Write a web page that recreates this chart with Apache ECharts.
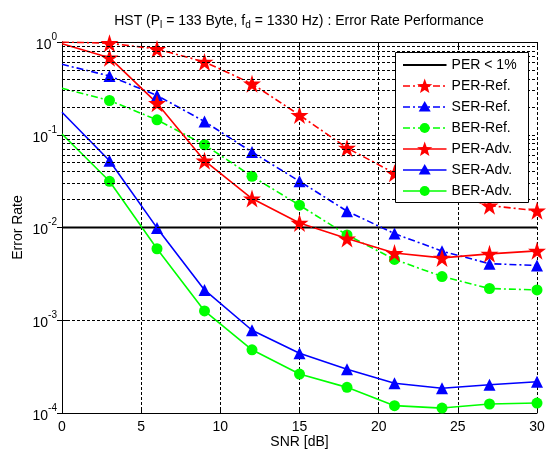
<!DOCTYPE html>
<html>
<head>
<meta charset="utf-8">
<script src="https://cdn.jsdelivr.net/npm/echarts@6/dist/echarts.min.js"></script>
<style>
html, body { margin: 0; padding: 0; background: #fff; }
#chart { width: 546px; height: 452px; }
</style>
</head>
<body>
<div id="chart"></div>
<script>
// SNR points (dB)
var snr = [0, 3, 6, 9, 12, 15, 18, 21, 24, 27, 30];
// reference receiver
var perRef = [1.0, 0.97, 0.84, 0.61, 0.355, 0.163, 0.072, 0.0385, 0.025, 0.0172, 0.0152];
var serRef = [0.575, 0.43, 0.265, 0.139, 0.065, 0.0315, 0.015, 0.0086, 0.00556, 0.00407, 0.0039];
var berRef = [0.318, 0.234, 0.145, 0.078, 0.0356, 0.0174, 0.0083, 0.00453, 0.00296, 0.0022, 0.00212];
// advanced receiver
var perAdv = [0.96, 0.678, 0.219, 0.0525, 0.0205, 0.0112, 0.0076, 0.0053, 0.0047, 0.0052, 0.0056];
var serAdv = [0.175, 0.0525, 0.0099, 0.00212, 0.00078, 0.00044, 0.000297, 0.000209, 0.000185, 0.000202, 0.000217];
var berAdv = [0.102, 0.0315, 0.0059, 0.00126, 0.00048, 0.000263, 0.000189, 0.00012, 0.000113, 0.000125, 0.000128];
// 1% PER limit
var perLimit = 0.01;
var xRange = [0, 30];
var yDecades = [-4, -3, -2, -1];
var minorSteps = [2, 3, 4, 5, 6, 7, 8, 9];

var FONT = '"Liberation Sans", Arial, sans-serif';
var star = 'path://M50,0 L61.2,34.5 L97.6,34.5 L68.2,55.9 L79.4,90.5 L50,69.1 L20.6,90.5 L31.8,55.9 L2.4,34.5 L38.8,34.5 Z';
var dashDot = [7, 3, 2, 3];

var RED = '#ff0000', BLUE = '#0000ff', GREEN = '#00ff00';

// legend entries (name, colour, marker, dashed)
var legendItems = [
  ['PER < 1%', '#000', null, false],
  ['PER-Ref.', RED, 'star', true],
  ['SER-Ref.', BLUE, 'triangle', true],
  ['BER-Ref.', GREEN, 'circle', true],
  ['PER-Adv.', RED, 'star', false],
  ['SER-Adv.', BLUE, 'triangle', false],
  ['BER-Adv.', GREEN, 'circle', false]
];

function starPoints(cx, cy, R, r) {
  var p = [];
  for (var i = 0; i < 10; i++) {
    var a = -Math.PI / 2 + i * Math.PI / 5;
    var rr = i % 2 === 0 ? R : r;
    p.push([cx + rr * Math.cos(a), cy + rr * Math.sin(a)]);
  }
  return p;
}

// legend drawn as a graphic group (box at 395,52), on top of the plot
function buildLegend() {
  var Z = 50;
  var kids = [{
    type: 'rect',
    z: Z,
    shape: { x: 0.5, y: 0.5, width: 133, height: 150 },
    style: { fill: '#fff', stroke: '#000', lineWidth: 1 }
  }];
  legendItems.forEach(function (it, i) {
    var cy = 13 + 21 * i, cx = 29.7;
    kids.push({
      type: 'line',
      z: Z + 1,
      shape: { x1: 8, y1: cy, x2: 51.5, y2: cy },
      style: { stroke: it[1], lineWidth: i === 0 ? 2 : 1.6, lineDash: it[3] ? dashDot : null }
    });
    if (it[2] === 'star') {
      kids.push({ type: 'polygon', z: Z + 2, shape: { points: starPoints(cx, cy + 0.6, 8, 3.3) }, style: { fill: it[1] } });
    } else if (it[2] === 'triangle') {
      kids.push({ type: 'polygon', z: Z + 2, shape: { points: [[cx, cy - 6], [cx + 6, cy + 4.5], [cx - 6, cy + 4.5]] }, style: { fill: it[1] } });
    } else if (it[2] === 'circle') {
      kids.push({ type: 'circle', z: Z + 2, shape: { cx: cx, cy: cy, r: 5 }, style: { fill: it[1] } });
    }
    kids.push({
      type: 'text',
      z: Z + 3,
      x: 56.6,
      y: cy,
      style: { text: it[0], fontFamily: FONT, fontSize: 14, fill: '#000', verticalAlign: 'middle', backgroundColor: '#fff' }
    });
  });
  return { type: 'group', x: 395, y: 52, z: Z, children: kids };
}

// no marker on the first point (like the original figure)
function pts(arr) {
  return arr.map(function (v, i) {
    var item = { value: [snr[i], v] };
    if (i === 0) item.symbol = 'none';
    return item;
  });
}

// dashed lines at 2..9 x 10^k
var minorLines = [];
yDecades.forEach(function (e) {
  minorSteps.forEach(function (k) {
    minorLines.push({ yAxis: k * Math.pow(10, e) });
  });
});

function mk(name, data, color, symbol, size, dashed) {
  return {
    name: name,
    type: 'line',
    data: pts(data),
    symbol: symbol,
    symbolSize: size,
    showAllSymbol: true,
    itemStyle: { color: color },
    lineStyle: { color: color, width: 1.6, type: dashed ? dashDot : 'solid' },
    z: 3
  };
}

var chart = echarts.init(document.getElementById('chart'));
var option = {
  animation: false,
  backgroundColor: '#fff',
  textStyle: { fontFamily: FONT, color: '#000' },
  graphic: [{
    type: 'text',
    x: 299,
    y: 21,
    style: {
      text: 'HST (P{sub|l} = 133 Byte, f{sub|d} = 1330 Hz) : Error Rate Performance',
      fontFamily: FONT,
      fontSize: 14,
      fill: '#000',
      align: 'center',
      verticalAlign: 'middle',
      rich: {
        sub: { fontFamily: FONT, fontSize: 10, padding: [9, 0, 0, 0] }
      }
    }
  }, buildLegend()],
  grid: { left: 62, right: 9, top: 42, bottom: 39, outerBoundsMode: 'none', containLabel: false },
  xAxis: [{
    type: 'value',
    min: xRange[0],
    max: xRange[1],
    interval: 5,
    name: 'SNR [dB]',
    nameLocation: 'middle',
    nameGap: 22,
    nameMoveOverlap: false,
    nameTextStyle: { fontFamily: FONT, fontSize: 14, color: '#000' },
    axisLine: { lineStyle: { color: '#000', width: 1 } },
    axisTick: { inside: true, length: 5, lineStyle: { color: '#000' } },
    axisLabel: { fontFamily: FONT, fontSize: 14, color: '#000', margin: 7 },
    splitLine: { show: true, lineStyle: { color: '#000', type: [3, 2], width: 1 } }
  }, {
    type: 'value',
    position: 'top',
    min: xRange[0],
    max: xRange[1],
    interval: 5,
    axisLine: { lineStyle: { color: '#000', width: 1 } },
    axisTick: { inside: true, length: 5, lineStyle: { color: '#000' } },
    axisLabel: { show: false },
    splitLine: { show: false }
  }],
  yAxis: [{
    type: 'log',
    logBase: 10,
    min: 1e-4,
    max: 1,
    name: 'Error Rate',
    nameLocation: 'middle',
    nameGap: 37,
    nameMoveOverlap: false,
    nameTextStyle: { fontFamily: FONT, fontSize: 14, color: '#000' },
    axisLine: { show: true, lineStyle: { color: '#000', width: 1 } },
    axisTick: { show: true, inside: true, length: 5, lineStyle: { color: '#000' } },
    axisLabel: {
      margin: 5,
      fontFamily: FONT,
      fontSize: 14,
      color: '#000',
      formatter: function (v) {
        return '{b|10}{sup|' + Math.round(Math.log10(v)) + '}';
      },
      rich: {
        b: { fontFamily: FONT, fontSize: 14, color: '#000', lineHeight: 20, verticalAlign: 'bottom' },
        sup: { fontFamily: FONT, fontSize: 10, color: '#000', lineHeight: 20, verticalAlign: 'top' }
      }
    },
    splitLine: { show: true, lineStyle: { color: '#000', type: [3, 2], width: 1 } }
  }, {
    type: 'log',
    logBase: 10,
    position: 'right',
    min: 1e-4,
    max: 1,
    axisLine: { show: true, lineStyle: { color: '#000', width: 1 } },
    axisTick: { show: true, inside: true, length: 5, lineStyle: { color: '#000' } },
    axisLabel: { show: false },
    splitLine: { show: false }
  }],
  series: [
    {
      name: 'grid',
      type: 'line',
      data: [],
      silent: true,
      markLine: {
        silent: true,
        symbol: ['none', 'none'],
        label: { show: false },
        lineStyle: { color: '#000', type: [3, 2], width: 1 },
        emphasis: { disabled: true },
        data: minorLines
      },
      z: 1
    },
    {
      name: 'PER < 1%',
      type: 'line',
      data: [[xRange[0], perLimit], [xRange[1], perLimit]],
      symbol: 'none',
      itemStyle: { color: '#000' },
      lineStyle: { color: '#000', width: 2 },
      z: 2
    },
    mk('PER-Ref.', perRef, RED, star, 18, true),
    mk('SER-Ref.', serRef, BLUE, 'triangle', 12, true),
    mk('BER-Ref.', berRef, GREEN, 'circle', 11, true),
    mk('PER-Adv.', perAdv, RED, star, 18, false),
    mk('SER-Adv.', serAdv, BLUE, 'triangle', 12, false),
    mk('BER-Adv.', berAdv, GREEN, 'circle', 11, false)
  ]
};
chart.setOption(option);
</script>
</body>
</html>
